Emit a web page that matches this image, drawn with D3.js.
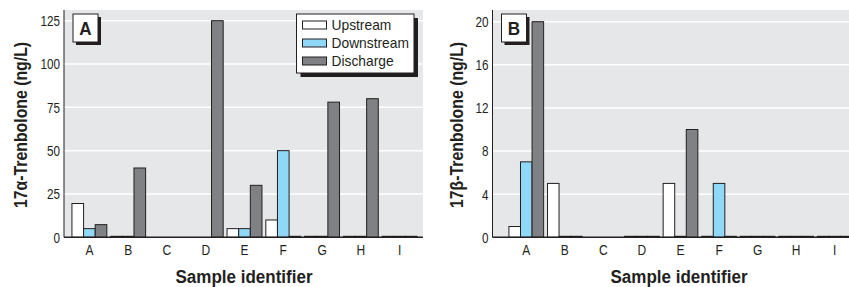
<!DOCTYPE html>
<html>
<head>
<meta charset="utf-8">
<script src="https://cdn.jsdelivr.net/npm/d3@7"></script>
<style>
  html, body { margin: 0; padding: 0; background: #ffffff; }
  svg { display: block; }
  text { font-family: "Liberation Sans", Arial, sans-serif; fill: #231f20; }
</style>
</head>
<body>
<svg id="chart" width="849" height="287"></svg>
<script>
// ---- data ----
const categories = ["A", "B", "C", "D", "E", "F", "G", "H", "I"];
const seriesNames = ["Upstream", "Downstream", "Discharge"];

// Panel A: 17α-Trenbolone (ng/L); null = not measured (no bar)
const alphaUpstream   = [19.5, 0, null, null, 5, 10, 0, 0, 0];
const alphaDownstream = [5,    0, null, null, 5, 50, 0, 0, 0];
const alphaDischarge  = [7.3, 40, null, 125, 30, 0, 78, 80, 0];
const alphaTicks = [0, 25, 50, 75, 100, 125];

// Panel B: 17β-Trenbolone (ng/L)
const betaUpstream   = [1, 5, null, 0, 5, 0, 0, 0, 0];
const betaDownstream = [7, 0, null, 0, 0, 5, 0, 0, 0];
const betaDischarge  = [20, 0, null, 0, 10, 0, 0, 0, 0];
const betaTicks = [0, 4, 8, 12, 16, 20];

const colors = { Upstream: "#ffffff", Downstream: "#8fd8f7", Discharge: "#808184" };
const ink = "#231f20";
const bg = "#e6e7e8";

const svg = d3.select("#chart");

// condensed text helper: horizontal squeeze emulating a condensed face
function ctext(sel, x, y, s, rot) {
  return sel.attr("transform", `translate(${x},${y})${rot ? ` rotate(${rot})` : ""} scale(${s},1)`);
}

function panel(opts) {
  const g = svg.append("g");
  const { left, right, top, base, yTopPx, xRange, yMax, ticks, series, label, yTitle, yTitleX, xTitleX } = opts;

  const y = d3.scaleLinear().domain([0, yMax]).range([base, yTopPx]);
  const x = d3.scaleBand().domain(categories).range(xRange).paddingInner(0.1).paddingOuter(0.05);
  const xs = d3.scaleBand().domain(seriesNames).range([0, x.bandwidth()]);

  // background
  g.append("rect").attr("x", left).attr("y", top).attr("width", right - left).attr("height", base - top).attr("fill", bg);

  // gridlines
  g.selectAll("line.grid").data(ticks.filter(t => t > 0)).join("line")
    .attr("x1", left).attr("x2", right)
    .attr("y1", d => y(d)).attr("y2", d => y(d))
    .attr("stroke", "#ffffff").attr("stroke-width", 1.5);

  // y tick labels
  g.selectAll("text.ytick").data(ticks).join("text")
    .each(function (d) { ctext(d3.select(this), left - 4, y(d), 0.78); })
    .attr("dy", "0.36em").attr("text-anchor", "end").attr("font-size", 15).text(d => d);

  // bars
  const rows = [];
  categories.forEach((c, i) => {
    seriesNames.forEach((s, j) => {
      const v = series[j][i];
      if (v !== null) rows.push({ c, s, v });
    });
  });
  g.selectAll("rect.bar").data(rows).join("rect")
    .attr("x", d => x(d.c) + xs(d.s))
    .attr("width", xs.bandwidth())
    .attr("y", d => Math.min(y(d.v), base - 1))
    .attr("height", d => Math.max(base - y(d.v), 1))
    .attr("fill", d => d.v === 0 ? ink : colors[d.s])
    .attr("stroke", ink).attr("stroke-width", 1);

  // axes lines
  g.append("line").attr("x1", left).attr("x2", right).attr("y1", base).attr("y2", base)
    .attr("stroke", ink).attr("stroke-width", 1.5);
  g.append("line").attr("x1", left).attr("x2", left).attr("y1", top).attr("y2", base)
    .attr("stroke", ink).attr("stroke-width", 1);

  // x category labels
  g.selectAll("text.xcat").data(categories).join("text")
    .each(function (d) { ctext(d3.select(this), x(d) + x.bandwidth() / 2, 255, 0.8); })
    .attr("text-anchor", "middle").attr("font-size", 15).text(d => d);

  // axis titles
  ctext(g.append("text"), xTitleX, 283, 0.92)
    .attr("text-anchor", "middle").attr("font-size", 18.5).attr("font-weight", "bold").text("Sample identifier");
  ctext(g.append("text"), yTitleX, 125, 0.88, -90)
    .attr("text-anchor", "middle").attr("font-size", 18).attr("font-weight", "bold").text(yTitle);

  // panel label box
  const bx = left + 9, by = 14, bw = 25, bh = 28;
  g.append("rect").attr("x", bx + 3).attr("y", by + 3).attr("width", bw).attr("height", bh).attr("fill", ink);
  g.append("rect").attr("x", bx).attr("y", by).attr("width", bw).attr("height", bh).attr("fill", "#fff").attr("stroke", ink);
  ctext(g.append("text"), bx + bw / 2, by + bh / 2, 0.9)
    .attr("dy", "0.36em").attr("text-anchor", "middle").attr("font-size", 19).attr("font-weight", "bold").text(label);

  return g;
}

panel({
  left: 64, right: 423, top: 10, base: 237.3, yTopPx: 20.7, xRange: [70, 419],
  yMax: 125, ticks: alphaTicks, series: [alphaUpstream, alphaDownstream, alphaDischarge],
  label: "A", yTitle: "17α-Trenbolone (ng/L)", yTitleX: 27, xTitleX: 244
});
panel({
  left: 492.5, right: 849, top: 10, base: 237.3, yTopPx: 21.7, xRange: [507, 854],
  yMax: 20, ticks: betaTicks, series: [betaUpstream, betaDownstream, betaDischarge],
  label: "B", yTitle: "17β-Trenbolone (ng/L)", yTitleX: 463, xTitleX: 679
});

// legend (panel A)
const lg = svg.append("g");
const lx = 296.5, ly = 14, lw = 117.5, lh = 59;
lg.append("rect").attr("x", lx + 4).attr("y", ly + 4).attr("width", lw).attr("height", lh).attr("fill", ink);
lg.append("rect").attr("x", lx).attr("y", ly).attr("width", lw).attr("height", lh).attr("fill", "#fff").attr("stroke", ink);
const ly0 = d3.scalePoint().domain(seriesNames).range([ly + 11, ly + 47]);
lg.selectAll("rect.sw").data(seriesNames).join("rect")
  .attr("x", lx + 6).attr("y", d => ly0(d) - 4).attr("width", 24).attr("height", 8)
  .attr("fill", d => colors[d]).attr("stroke", ink);
lg.selectAll("text.lt").data(seriesNames).join("text")
  .each(function (d) { ctext(d3.select(this), lx + 35, ly0(d), 0.92); })
  .attr("dy", "0.36em").attr("font-size", 15).text(d => d);
</script>
</body>
</html>
